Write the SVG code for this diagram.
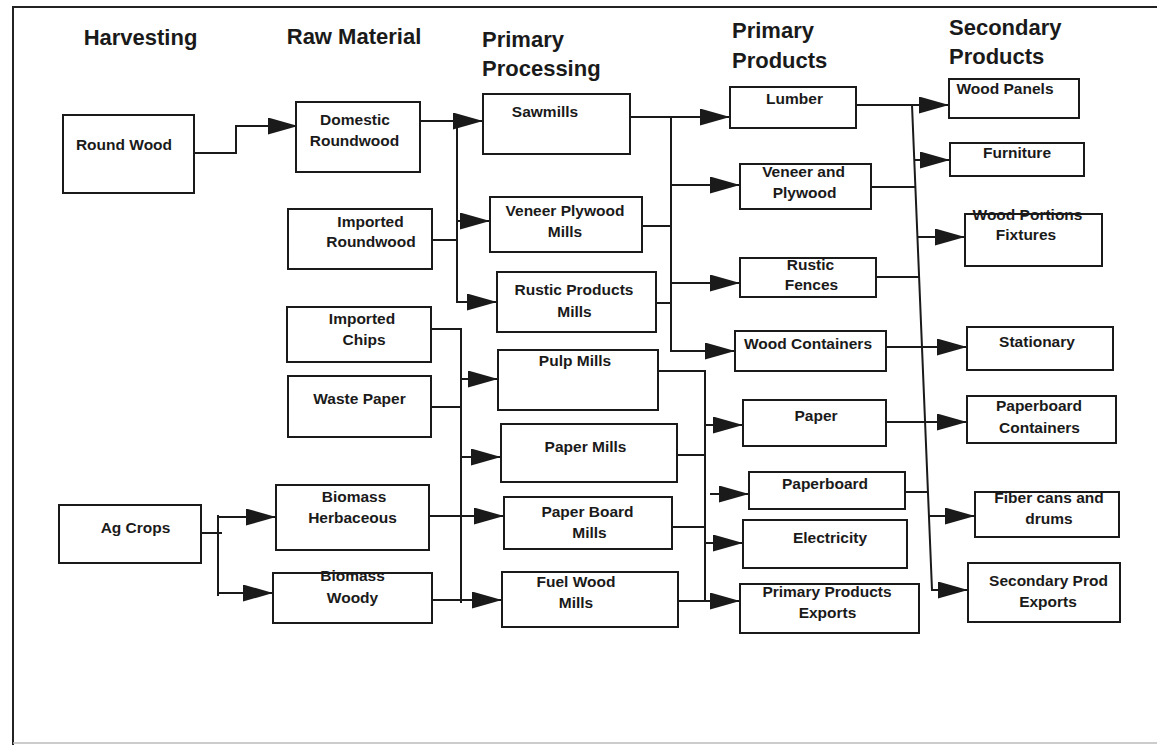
<svg xmlns="http://www.w3.org/2000/svg" width="1157" height="745" viewBox="0 0 1157 745">
<style>
  .box{fill:#fff;stroke:#1a1a1a;stroke-width:2}
  .t{font-family:"Liberation Sans",Arial,sans-serif;font-weight:bold;font-size:15.5px;fill:#1a1a1a;text-anchor:middle}
  .h{font-family:"Liberation Sans",Arial,sans-serif;font-weight:bold;font-size:22px;fill:#1a1a1a}
  .c{fill:none;stroke:#1a1a1a;stroke-width:2}
  .a{marker-end:url(#ah)}
</style>
<defs>
  <marker id="ah" markerUnits="userSpaceOnUse" markerWidth="32" markerHeight="18" refX="30" refY="8.5" orient="auto">
    <path d="M0,0 L30,8.5 L0,17 z" fill="#1a1a1a"/>
  </marker>
</defs>
<rect width="1157" height="745" fill="#fff"/>
<g id="frame">
  <path d="M13,745 V7 H1157" fill="none" stroke="#222" stroke-width="2"/>
  <path d="M13,743 H1157" fill="none" stroke="#bbb" stroke-width="1.5"/>
</g>
<g id="headers">
  <text class="h" x="140.5" y="45" text-anchor="middle">Harvesting</text>
  <text class="h" x="354" y="44" text-anchor="middle">Raw Material</text>
  <text class="h" x="482" y="47">Primary</text>
  <text class="h" x="482" y="76">Processing</text>
  <text class="h" x="732" y="38">Primary</text>
  <text class="h" x="732" y="68">Products</text>
  <text class="h" x="949" y="35">Secondary</text>
  <text class="h" x="949" y="64">Products</text>
</g>
<g id="connectors">
  <path class="c a" d="M194,153 H236 V126 H298"/>
  <path class="c a" d="M420,121 H483"/>
  <path class="c a" d="M457,121 V302 H497"/>
  <path class="c a" d="M457,221 H490"/>
  <path class="c" d="M432,240 H457"/>
  <path class="c" d="M431,329 H461 V603"/>
  <path class="c" d="M431,407 H461"/>
  <path class="c a" d="M461,379 H498"/>
  <path class="c a" d="M461,457 H501"/>
  <path class="c a" d="M429,516 H504"/>
  <path class="c a" d="M432,600 H502"/>
  <path class="c" d="M201,533 H222"/>
  <path class="c" d="M218,515 V596"/>
  <path class="c a" d="M218,517 H276"/>
  <path class="c a" d="M218,593 H273"/>
  <path class="c a" d="M630,117 H730"/>
  <path class="c a" d="M671,117 V351 H735"/>
  <path class="c" d="M642,226 H671"/>
  <path class="c" d="M656,303 H671"/>
  <path class="c a" d="M671,185 H740"/>
  <path class="c a" d="M671,283 H740"/>
  <path class="c" d="M658,371 H705 V601"/>
  <path class="c" d="M677,455 H705"/>
  <path class="c" d="M672,527 H705"/>
  <path class="c a" d="M678,601 H740"/>
  <path class="c a" d="M705,425 H743"/>
  <path class="c a" d="M710,494 H749"/>
  <path class="c a" d="M705,543 H743"/>
  <path class="c a" d="M912,105 L932,590 H968"/>
  <path class="c a" d="M856,105 H949"/>
  <path class="c a" d="M914,160 H950"/>
  <path class="c" d="M871,187 H915"/>
  <path class="c a" d="M917,237 H965"/>
  <path class="c" d="M876,277 H919"/>
  <path class="c a" d="M886,347 H967"/>
  <path class="c a" d="M886,422 H967"/>
  <path class="c" d="M905,492 H928"/>
  <path class="c a" d="M929,516 H975"/>
</g>
<g id="round-wood"><rect class="box" x="63" y="115" width="131" height="78"/><text class="t" x="124" y="150">Round Wood</text></g>
<g id="ag-crops"><rect class="box" x="59" y="505" width="142" height="58"/><text class="t" x="135.5" y="533">Ag Crops</text></g>
<g id="domestic-roundwood"><rect class="box" x="296" y="102" width="124" height="70"/><text class="t" x="355" y="125">Domestic</text><text class="t" x="354.5" y="146">Roundwood</text></g>
<g id="imported-roundwood"><rect class="box" x="288" y="209" width="144" height="60"/><text class="t" x="370.5" y="227">Imported</text><text class="t" x="371" y="247">Roundwood</text></g>
<g id="imported-chips"><rect class="box" x="287" y="307" width="144" height="55"/><text class="t" x="362" y="324">Imported</text><text class="t" x="364" y="345">Chips</text></g>
<g id="waste-paper"><rect class="box" x="288" y="376" width="143" height="61"/><text class="t" x="359.5" y="404">Waste Paper</text></g>
<g id="biomass-herbaceous"><rect class="box" x="276" y="485" width="153" height="65"/><text class="t" x="354" y="502">Biomass</text><text class="t" x="352.5" y="523">Herbaceous</text></g>
<g id="biomass-woody"><rect class="box" x="273" y="573" width="159" height="50"/><text class="t" x="352.5" y="581">Biomass</text><text class="t" x="352.5" y="603">Woody</text></g>
<g id="sawmills"><rect class="box" x="483" y="94" width="147" height="60"/><text class="t" x="545" y="117">Sawmills</text></g>
<g id="veneer-plywood-mills"><rect class="box" x="490" y="197" width="152" height="55"/><text class="t" x="565" y="216">Veneer Plywood</text><text class="t" x="565" y="237">Mills</text></g>
<g id="rustic-products-mills"><rect class="box" x="497" y="272" width="159" height="60"/><text class="t" x="574" y="295">Rustic Products</text><text class="t" x="574.5" y="317">Mills</text></g>
<g id="pulp-mills"><rect class="box" x="498" y="350" width="160" height="60"/><text class="t" x="575" y="366">Pulp Mills</text></g>
<g id="paper-mills"><rect class="box" x="501" y="424" width="176" height="58"/><text class="t" x="585.5" y="452">Paper Mills</text></g>
<g id="paper-board-mills"><rect class="box" x="504" y="497" width="168" height="52"/><text class="t" x="587.5" y="517">Paper Board</text><text class="t" x="589.5" y="538">Mills</text></g>
<g id="fuel-wood-mills"><rect class="box" x="502" y="572" width="176" height="55"/><text class="t" x="576" y="587">Fuel Wood</text><text class="t" x="576" y="608">Mills</text></g>
<g id="lumber"><rect class="box" x="730" y="87" width="126" height="41"/><text class="t" x="794.5" y="104">Lumber</text></g>
<g id="veneer-and-plywood"><rect class="box" x="740" y="164" width="131" height="45"/><text class="t" x="803.5" y="177">Veneer and</text><text class="t" x="804.5" y="198">Plywood</text></g>
<g id="rustic-fences"><rect class="box" x="740" y="258" width="136" height="39"/><text class="t" x="810.5" y="270">Rustic</text><text class="t" x="811.5" y="290">Fences</text></g>
<g id="wood-containers"><rect class="box" x="735" y="331" width="151" height="40"/><text class="t" x="808" y="349">Wood Containers</text></g>
<g id="paper"><rect class="box" x="743" y="400" width="143" height="46"/><text class="t" x="816" y="421">Paper</text></g>
<g id="paperboard"><rect class="box" x="749" y="472" width="156" height="37"/><text class="t" x="825" y="489">Paperboard</text></g>
<g id="electricity"><rect class="box" x="743" y="520" width="164" height="48"/><text class="t" x="830" y="543">Electricity</text></g>
<g id="primary-products-exports"><rect class="box" x="740" y="584" width="179" height="49"/><text class="t" x="827" y="597">Primary Products</text><text class="t" x="827.5" y="618">Exports</text></g>
<g id="wood-panels"><rect class="box" x="949" y="79" width="130" height="39"/><text class="t" x="1005" y="94">Wood Panels</text></g>
<g id="furniture"><rect class="box" x="950" y="143" width="134" height="33"/><text class="t" x="1017" y="158">Furniture</text></g>
<g id="wood-portions-fixtures"><rect class="box" x="965" y="214" width="137" height="52"/><text class="t" x="1027.5" y="220">Wood Portions</text><text class="t" x="1026" y="240">Fixtures</text></g>
<g id="stationary"><rect class="box" x="967" y="327" width="146" height="43"/><text class="t" x="1037" y="347">Stationary</text></g>
<g id="paperboard-containers"><rect class="box" x="967" y="396" width="149" height="47"/><text class="t" x="1039" y="411">Paperboard</text><text class="t" x="1039.5" y="433">Containers</text></g>
<g id="fiber-cans-and-drums"><rect class="box" x="975" y="492" width="144" height="45"/><text class="t" x="1049" y="503">Fiber cans and</text><text class="t" x="1049" y="524">drums</text></g>
<g id="secondary-prod-exports"><rect class="box" x="968" y="563" width="152" height="59"/><text class="t" x="1048.5" y="586">Secondary Prod</text><text class="t" x="1048" y="607">Exports</text></g>
</svg>
